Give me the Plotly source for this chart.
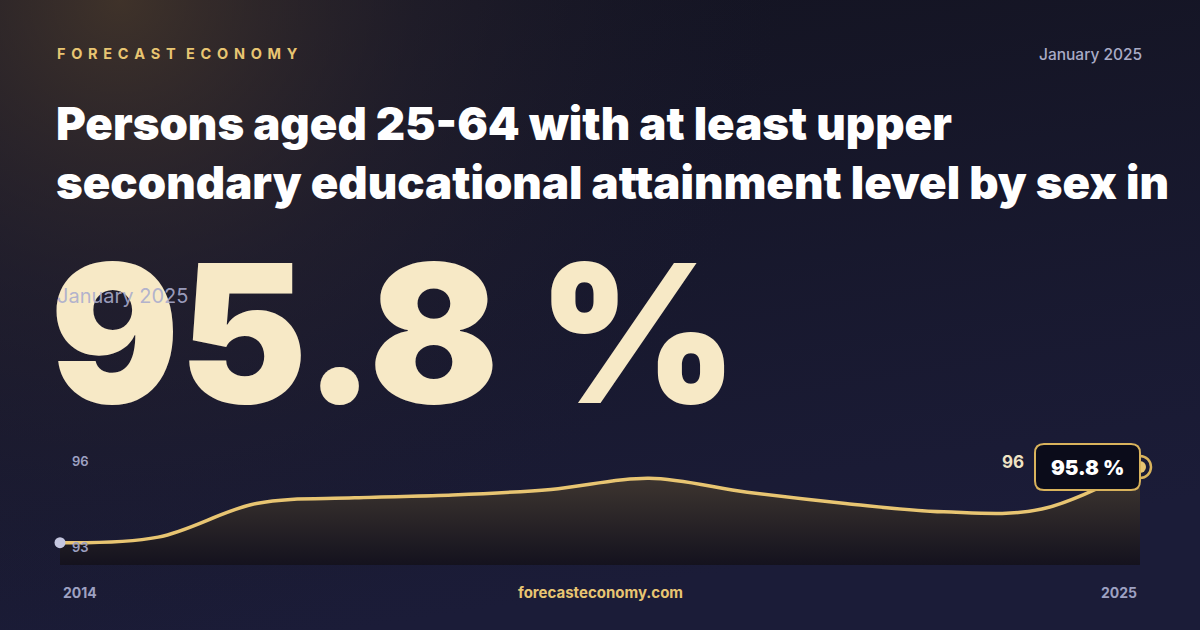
import base64
import plotly.graph_objects as go

W, H = 1200, 630

years = [2014, 2015, 2016, 2017, 2018, 2019, 2020, 2021, 2022, 2023, 2024, 2025]
values = [93.1, 93.3, 94.5, 94.7, 94.8, 95.0, 95.4, 94.9, 94.5, 94.2, 94.3, 95.8]

brand = "FORECAST ECONOMY"
period = "January 2025"
title = "Persons aged 25-64 with at least upper<br>secondary educational attainment level by sex in"
headline = "95.8 %"
site = "forecasteconomy.com"

GOLD = "#e8c572"
GRAY = "#9ea1c2"
FONT = "Inter"

Y_LO, Y_HI = 92.305, 96.585


def px(x):
    return x / W


def py(y):
    return 1 - y / H


# background: dark navy with warm glow in the top-left corner
bg_svg = f"""<svg xmlns='http://www.w3.org/2000/svg' width='{W}' height='{H}'>
<defs>
<linearGradient id='base' x1='0' y1='0' x2='0.3' y2='1'>
<stop offset='0' stop-color='#13131f'/>
<stop offset='1' stop-color='#1b1c38'/>
</linearGradient>
<radialGradient id='glow' cx='120' cy='0' r='660' gradientUnits='userSpaceOnUse'>
<stop offset='0' stop-color='#4a3a2c' stop-opacity='0.8'/>
<stop offset='0.45' stop-color='#2e2730' stop-opacity='0.42'/>
<stop offset='1' stop-color='#1a1a30' stop-opacity='0'/>
</radialGradient>
</defs>
<rect width='{W}' height='{H}' fill='url(#base)'/>
<rect width='{W}' height='{H}' fill='url(#glow)'/>
</svg>"""
bg_uri = "data:image/svg+xml;base64," + base64.b64encode(bg_svg.encode()).decode()

fig = go.Figure()

fig.add_trace(go.Scatter(
    x=years, y=values, mode="lines",
    line=dict(color=GOLD, width=3.5, shape="spline", smoothing=1),
    fill="tozeroy",
    fillgradient=dict(type="vertical", start=Y_LO, stop=max(values),
                      colorscale=[[0, "rgba(20,18,30,1)"], [0.6, "rgba(48,42,42,1)"],
                                  [1, "rgba(66,57,50,1)"]]),
    hoverinfo="skip", showlegend=False,
))

# start point
fig.add_trace(go.Scatter(
    x=years[:1], y=values[:1], mode="markers",
    marker=dict(color="#c5c7e0", size=11),
    cliponaxis=False, hoverinfo="skip", showlegend=False,
))

# end point: ring + dot
fig.add_trace(go.Scatter(
    x=years[-1:], y=values[-1:], mode="markers",
    marker=dict(color="rgba(0,0,0,0)", size=22, line=dict(color="#d9b35c", width=2.5)),
    cliponaxis=False, hoverinfo="skip", showlegend=False,
))
fig.add_trace(go.Scatter(
    x=years[-1:], y=values[-1:], mode="markers",
    marker=dict(color=GOLD, size=12),
    cliponaxis=False, hoverinfo="skip", showlegend=False,
))

# tooltip box (rounded rect in pixels)
bx0, bx1, by0, by1, r = 1035, 1140, 444, 490, 9
pts = [
    f"M {px(bx0 + r)},{py(by0)}",
    f"L {px(bx1 - r)},{py(by0)}",
    f"Q {px(bx1)},{py(by0)} {px(bx1)},{py(by0 + r)}",
    f"L {px(bx1)},{py(by1 - r)}",
    f"Q {px(bx1)},{py(by1)} {px(bx1 - r)},{py(by1)}",
    f"L {px(bx0 + r)},{py(by1)}",
    f"Q {px(bx0)},{py(by1)} {px(bx0)},{py(by1 - r)}",
    f"L {px(bx0)},{py(by0 + r)}",
    f"Q {px(bx0)},{py(by0)} {px(bx0 + r)},{py(by0)}",
    "Z",
]
fig.add_shape(type="path", path=" ".join(pts), xref="paper", yref="paper",
              line=dict(color="#d9b35c", width=2), fillcolor="#0b0c1a", layer="above")

ann = []


def text(x, y, s, size, color, weight=400, xanchor="left", yanchor="middle"):
    ann.append(dict(x=px(x), y=py(y), xref="paper", yref="paper", text=s, showarrow=False,
                    xanchor=xanchor, yanchor=yanchor, align=xanchor if xanchor != "center" else "center",
                    font=dict(family=FONT, size=size, color=color, weight=weight)))


# letter-spaced brand line
gap = "\u00a0\u200a\u200a"
spaced = gap.join(brand).replace(gap + " " + gap, "\u00a0\u00a0\u00a0")
text(55, 53, spaced, 14.5, GOLD, 700)
text(1144, 54, period, 15.5, "#a9abc6", 500, xanchor="right")
text(54, 153, title, 45.5, "#ffffff", 900)
text(48, 333, headline, 192, "#f7e9c6", 900)
text(55, 296, period, 20, "rgba(170,172,205,0.9)", 400)

# chart labels
text(70, 461, "96", 13, GRAY, 600)
text(70, 547, "93", 13, GRAY, 600)
text(1026, 462, "96", 17, "#efe3c4", 700, xanchor="right")
text(1087, 467, headline, 20.5, "#ffffff", 900, xanchor="center")
text(61, 592, str(years[0]), 14, GRAY, 700)
text(1139, 592, str(years[-1]), 14, GRAY, 700, xanchor="right")
text(600, 592, site, 15, GOLD, 700, xanchor="center")

fig.update_layout(
    width=W, height=H,
    margin=dict(l=0, r=0, t=0, b=0),
    paper_bgcolor="#161830",
    plot_bgcolor="rgba(0,0,0,0)",
    images=[dict(source=bg_uri, xref="paper", yref="paper", x=0, y=1, sizex=1, sizey=1,
                 sizing="stretch", layer="below", xanchor="left", yanchor="top")],
    annotations=ann,
    xaxis=dict(domain=[px(60), px(1140)], range=[years[0], years[-1]],
               visible=False, fixedrange=True),
    yaxis=dict(domain=[py(565), py(445)], range=[Y_LO, Y_HI],
               visible=False, fixedrange=True),
    showlegend=False,
)

fig.write_html("out.html", config=dict(displayModeBar=False),
               post_script="document.body.style.margin='0';")
